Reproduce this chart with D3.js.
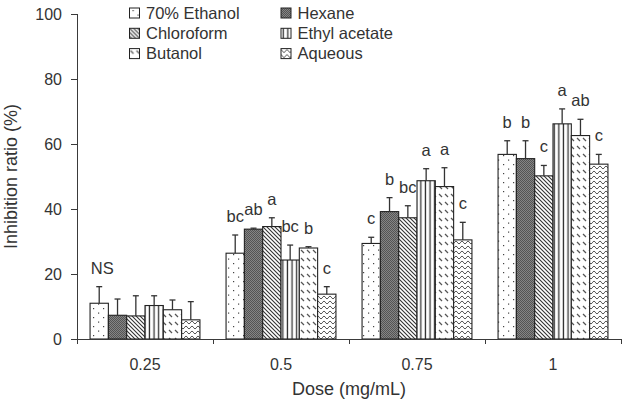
<!doctype html>
<html>
<head>
<meta charset="utf-8">
<title>Inhibition ratio by dose</title>
<script src="https://cdn.jsdelivr.net/npm/d3@7"></script>
<style>
    body { margin: 0; background: #fff; }
    svg { display: block; font-family: "Liberation Sans", Arial, sans-serif; }
    .axis path, .axis line { stroke: #3a3a3a; shape-rendering: crispEdges; }
    .axis text { font-size: 16px; fill: #333; }
    .legend text { font-size: 16.5px; fill: #333; }
    .letter { font-size: 16.5px; fill: #333; text-anchor: middle; }
    .title { font-size: 18px; fill: #333; text-anchor: middle; }
</style>
</head>
<body>
<script>
"use strict";

const doses = ["0.25", "0.5", "0.75", "1"];
const solvents = ["70% Ethanol", "Hexane", "Chloroform", "Ethyl acetate", "Butanol", "Aqueous"];
const yTicks = [0, 20, 40, 60, 80, 100];

// mean inhibition ratio (%) per solvent, one value per dose
const ethanol = [11.0, 26.4, 29.4, 56.8];
const hexane = [7.3, 33.8, 39.2, 55.5];
const chloroform = [7.1, 34.6, 37.3, 50.2];
const ethylAcetate = [10.3, 24.3, 48.7, 66.2];
const butanol = [9.0, 28.0, 46.9, 62.6];
const aqueous = [5.9, 13.8, 30.5, 53.8];

// standard deviation (upper bar only)
const ethanolErr = [5.1, 5.6, 1.9, 4.2];
const hexaneErr = [5.0, 0.3, 4.3, 5.5];
const chloroformErr = [6.2, 2.7, 3.7, 3.2];
const ethylAcetateErr = [3.0, 4.6, 3.7, 4.6];
const butanolErr = [3.0, 0.4, 5.8, 5.0];
const aqueousErr = [5.6, 2.3, 5.4, 3.0];

// significance letters per dose, in solvent order
const letters = [
    ["NS", "", "", "", "", ""],
    ["bc", "ab", "a", "bc", "b", "c"],
    ["c", "b", "bc", "a", "a", "c"],
    ["b", "b", "c", "a", "ab", "c"],
];

const means = [ethanol, hexane, chloroform, ethylAcetate, butanol, aqueous];
const errs = [ethanolErr, hexaneErr, chloroformErr, ethylAcetateErr, butanolErr, aqueousErr];
const patternIds = ["p-dots", "p-hexane", "p-diag", "p-vert", "p-dash", "p-wave"];

const width = 623;
const height = 400;
const margin = { top: 14, right: 2, bottom: 61, left: 77 };

const svg = d3.select("body").append("svg")
    .attr("width", width)
    .attr("height", height)
    .attr("viewBox", [0, 0, width, height]);

// fill patterns
const defs = svg.append("defs");

const pDots = defs.append("pattern").attr("id", "p-dots")
    .attr("patternUnits", "userSpaceOnUse").attr("width", 10).attr("height", 9);
pDots.append("rect").attr("width", 10).attr("height", 9).attr("fill", "#fff");
pDots.append("rect").attr("x", 3).attr("y", 2).attr("width", 1.2).attr("height", 1.2).attr("fill", "#444");
pDots.append("rect").attr("x", 8).attr("y", 6.5).attr("width", 1.2).attr("height", 1.2).attr("fill", "#444");

const pHex = defs.append("pattern").attr("id", "p-hexane")
    .attr("patternUnits", "userSpaceOnUse").attr("width", 2).attr("height", 2);
pHex.append("rect").attr("width", 2).attr("height", 2).attr("fill", "#858585");
pHex.append("rect").attr("width", 1).attr("height", 1).attr("fill", "#545454");
pHex.append("rect").attr("x", 1).attr("y", 1).attr("width", 1).attr("height", 1).attr("fill", "#545454");

const pDiag = defs.append("pattern").attr("id", "p-diag")
    .attr("patternUnits", "userSpaceOnUse").attr("width", 4).attr("height", 4);
pDiag.append("rect").attr("width", 4).attr("height", 4).attr("fill", "#fff");
pDiag.append("path").attr("d", "M-1,-1L5,5M-1,3L1,5M3,-1L5,1")
    .attr("stroke", "#333").attr("stroke-width", 1.1);

const pVert = defs.append("pattern").attr("id", "p-vert")
    .attr("patternUnits", "userSpaceOnUse").attr("width", 4.6).attr("height", 4);
pVert.append("rect").attr("width", 4.6).attr("height", 4).attr("fill", "#fff");
pVert.append("rect").attr("x", 1.6).attr("width", 1.3).attr("height", 4).attr("fill", "#333");

const pDash = defs.append("pattern").attr("id", "p-dash")
    .attr("patternUnits", "userSpaceOnUse").attr("width", 6).attr("height", 8);
pDash.append("rect").attr("width", 6).attr("height", 8).attr("fill", "#fff");
pDash.append("path").attr("d", "M1,2L4,5")
    .attr("stroke", "#555").attr("stroke-width", 1.2);

const pWave = defs.append("pattern").attr("id", "p-wave")
    .attr("patternUnits", "userSpaceOnUse").attr("width", 6).attr("height", 5);
pWave.append("rect").attr("width", 6).attr("height", 5).attr("fill", "#fff");
pWave.append("path").attr("d", "M0,1.2C1,1.2 2,3.8 3,3.8C4,3.8 5,1.2 6,1.2")
    .attr("fill", "none").attr("stroke", "#333").attr("stroke-width", 1);

// scales
const x0 = d3.scaleBand()
    .domain(doses)
    .range([margin.left, width - margin.right]);

const pad = x0.bandwidth() * 0.096;
const x1 = d3.scaleBand()
    .domain(solvents)
    .range([pad, x0.bandwidth() - pad]);

const y = d3.scaleLinear()
    .domain([0, 100])
    .range([height - margin.bottom, margin.top]);

const rows = [];
doses.forEach((dose, di) => {
    solvents.forEach((s, si) => {
        rows.push({
            dose, solvent: s, si,
            value: means[si][di],
            err: errs[si][di],
            letter: letters[di][si],
        });
    });
});

// bars
const bars = svg.append("g");

bars.selectAll("rect")
    .data(rows)
    .join("rect")
    .attr("x", d => x0(d.dose) + x1(d.solvent))
    .attr("y", d => y(d.value))
    .attr("width", x1.bandwidth())
    .attr("height", d => y(0) - y(d.value))
    .attr("fill", d => `url(#${patternIds[d.si]})`)
    .attr("stroke", "#222")
    .attr("stroke-width", 1.1);

// error bars (upper only)
const cx = d => x0(d.dose) + x1(d.solvent) + x1.bandwidth() / 2;
const eb = svg.append("g").attr("stroke", "#333").attr("stroke-width", 1.3);

eb.selectAll("line.stem")
    .data(rows)
    .join("line")
    .attr("class", "stem")
    .attr("x1", cx).attr("x2", cx)
    .attr("y1", d => y(d.value))
    .attr("y2", d => y(d.value + d.err));

eb.selectAll("line.cap")
    .data(rows)
    .join("line")
    .attr("class", "cap")
    .attr("x1", d => cx(d) - 3).attr("x2", d => cx(d) + 3)
    .attr("y1", d => y(d.value + d.err))
    .attr("y2", d => y(d.value + d.err));

svg.append("g")
    .selectAll("text")
    .data(rows.filter(d => d.letter))
    .join("text")
    .attr("class", "letter")
    .attr("x", d => cx(d) + (d.letter === "NS" ? 3 : 0))
    .attr("y", d => y(d.value + d.err) - 13)
    .text(d => d.letter);

// axes
svg.append("g")
    .attr("class", "axis")
    .attr("transform", `translate(${margin.left},0)`)
    .call(d3.axisLeft(y).tickValues(yTicks).tickSize(6).tickPadding(9))
    .call(g => g.select(".domain").attr("d", `M0.5,${y(0)}V${y(100)}`));

const xAxis = svg.append("g")
    .attr("class", "axis")
    .attr("transform", `translate(0,${y(0)})`)
    .call(d3.axisBottom(x0).tickSize(0).tickPadding(20))
    .call(g => g.select(".domain").attr("d", `M${margin.left},0.5H${width - margin.right}`));

xAxis.selectAll("line.bound")
    .data(doses.map(d => x0(d)).concat([x0.range()[1]]))
    .join("line")
    .attr("class", "bound")
    .attr("x1", d => d + 0.5).attr("x2", d => d + 0.5)
    .attr("y1", 0).attr("y2", 5);

svg.append("text")
    .attr("class", "title")
    .attr("x", (margin.left + width - margin.right) / 2)
    .attr("y", 395)
    .text("Dose (mg/mL)");

svg.append("text")
    .attr("class", "title")
    .attr("transform", `translate(17,${(y(0) + y(100)) / 2}) rotate(-90)`)
    .text("Inhibition ratio (%)");

// legend
const legend = svg.append("g").attr("class", "legend");
const item = legend.selectAll("g")
    .data(solvents)
    .join("g")
    .attr("transform", (d, i) => `translate(${129.5 + (i % 2) * 151.5},${8 + Math.floor(i / 2) * 20.3})`);

item.append("rect")
    .attr("width", 10).attr("height", 10)
    .attr("fill", (d, i) => `url(#${patternIds[i]})`)
    .attr("stroke", "#222");

item.append("text")
    .attr("x", 16.5)
    .attr("y", 5)
    .attr("dy", "0.35em")
    .text(d => d);
</script>
</body>
</html>
